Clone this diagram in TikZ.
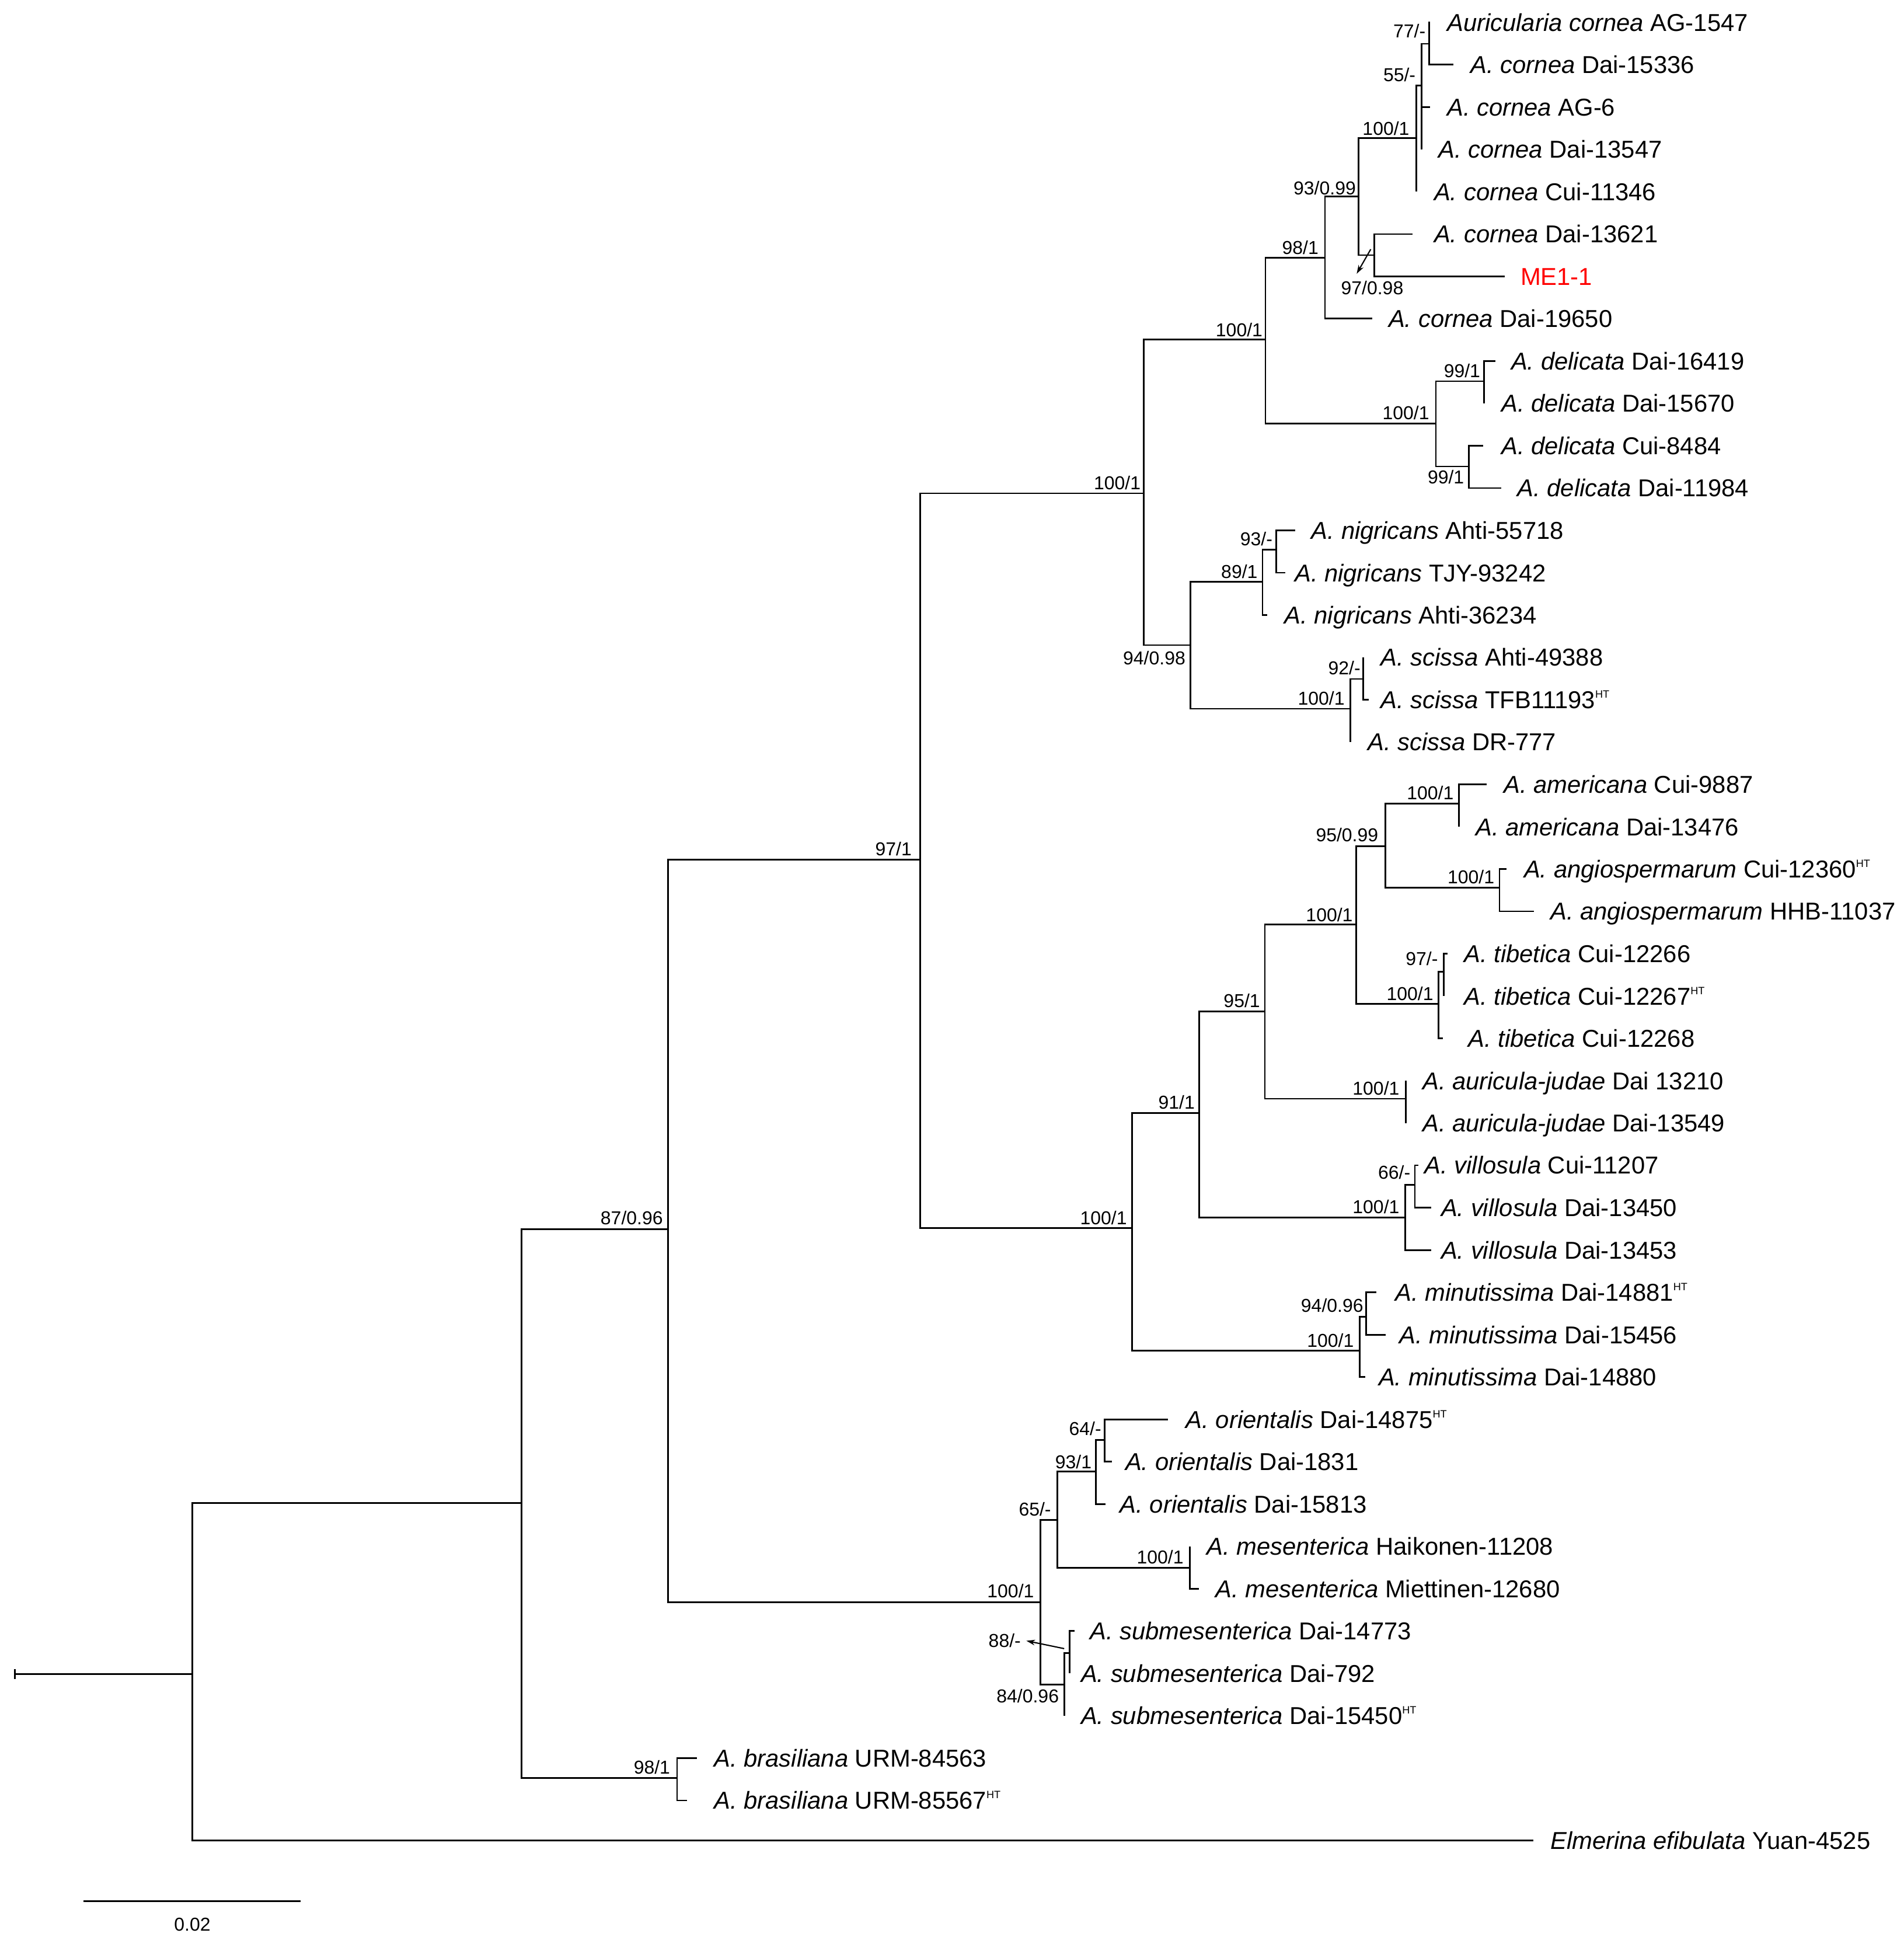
\documentclass[tikz,border=0pt]{standalone}
\usepackage{fontspec}
\setmainfont{Liberation Sans}
\usetikzlibrary{arrows.meta}
\newcommand\HTsup{\raisebox{8.5pt}{\fontsize{8.5}{8.5}\selectfont HT}}
\begin{document}
\begin{tikzpicture}[x=1pt,y=-1pt,
  br/.style={line width=1.3pt},
  tip/.style={anchor=base west, inner sep=0pt, font=\fontsize{19.6}{22}\selectfont},
  bs/.style={anchor=base east, inner sep=0pt, font=\fontsize{15}{17}\selectfont},
  bsc/.style={anchor=base, inner sep=0pt, font=\fontsize{15}{17}\selectfont},
  ptr/.style={line width=1pt, -{Stealth[length=7pt,width=4.5pt]}}]
\useasboundingbox (0,0) rectangle (1530,1564.7);

% ---------- tips (branch ends) ----------
\coordinate (t1) at (1149.5,18.0);
\coordinate (t2) at (1168,52.0);
\coordinate (t3) at (1149.5,86.0);
\coordinate (t4) at (1142.6,120.1);
\coordinate (t5) at (1138.4,154.1);
\coordinate (t6) at (1135.6,188.1);
\coordinate (t7) at (1209.7,222.1);
\coordinate (t8) at (1103,256.1);
\coordinate (t9) at (1202,290.2);
\coordinate (t10) at (1193,324.2);
\coordinate (t11) at (1192.3,358.2);
\coordinate (t12) at (1206.7,392.2);
\coordinate (t13) at (1041,426.2);
\coordinate (t14) at (1033.2,460.3);
\coordinate (t15) at (1018.7,494.3);
\coordinate (t16) at (1095.8,528.3);
\coordinate (t17) at (1100.4,562.3);
\coordinate (t18) at (1085.3,596.3);
\coordinate (t19) at (1195,630.4);
\coordinate (t20) at (1172.7,664.4);
\coordinate (t21) at (1211,698.4);
\coordinate (t22) at (1233.1,732.4);
\coordinate (t23) at (1163.4,766.4);
\coordinate (t24) at (1160.5,800.5);
\coordinate (t25) at (1159.7,834.5);
\coordinate (t26) at (1130,868.5);
\coordinate (t27) at (1130,902.5);
\coordinate (t28) at (1140,936.5);
\coordinate (t29) at (1150.6,970.6);
\coordinate (t30) at (1150.6,1004.6);
\coordinate (t31) at (1106.2,1038.6);
\coordinate (t32) at (1113.8,1072.6);
\coordinate (t33) at (1097.5,1106.6);
\coordinate (t34) at (939,1140.7);
\coordinate (t35) at (893.6,1174.7);
\coordinate (t36) at (888.5,1208.7);
\coordinate (t37) at (956.4,1242.7);
\coordinate (t38) at (963.7,1276.7);
\coordinate (t39) at (863.6,1310.8);
\coordinate (t40) at (859.7,1344.8);
\coordinate (t41) at (855.4,1378.8);
\coordinate (t42) at (560.3,1412.8);
\coordinate (t43) at (552.3,1446.9);
\coordinate (t44) at (1232.6,1479.0);

% ---------- internal nodes ----------
\coordinate (tick) at (12,1345.4);
\coordinate (nroot) at (154.6,1345.4);
\coordinate (n1) at (419.2,1208);
\coordinate (n2) at (537,988);
\coordinate (n3) at (739.5,691);
\coordinate (n4) at (919.2,396.5);
\coordinate (n6) at (1017.2,273);
\coordinate (n8) at (1065,207);
\coordinate (n9) at (1092,158);
\coordinate (n10) at (1138.4,111);
\coordinate (n12) at (1142.6,68.7);
\coordinate (n13) at (1148.8,35.2);
\coordinate (n11) at (1104.6,205);
\coordinate (ndel) at (1154.2,340.5);
\coordinate (nd1) at (1193,306.4);
\coordinate (nd2) at (1180.6,374.9);
\coordinate (n7) at (956.8,518.4);
\coordinate (nnig) at (1014.8,467.7);
\coordinate (nnig2) at (1025.7,441.7);
\coordinate (nsci) at (1085.3,569.6);
\coordinate (nsci2) at (1095.8,545.6);
\coordinate (n5) at (909.8,987);
\coordinate (n14) at (964,894.6);
\coordinate (n15) at (1016.7,812.8);
\coordinate (n16) at (1090,743);
\coordinate (n17) at (1113.6,680.2);
\coordinate (name) at (1172.7,645.7);
\coordinate (nang) at (1205.3,713.3);
\coordinate (ntib) at (1156.4,806.9);
\coordinate (ntib2) at (1160.5,781);
\coordinate (naur) at (1130,883);
\coordinate (nvil) at (1129.4,978.4);
\coordinate (nvil2) at (1137.3,952.2);
\coordinate (nmin) at (1092.9,1085.4);
\coordinate (nmin2) at (1098.2,1058.3);
\coordinate (nmes) at (836.2,1287.5);
\coordinate (nori0) at (849.8,1221.6);
\coordinate (nori) at (880.9,1182.5);
\coordinate (nori2) at (887.8,1157.3);
\coordinate (nmes2) at (956.4,1260);
\coordinate (nsub) at (855.4,1353.7);
\coordinate (nsub2) at (859.7,1328.5);
\coordinate (nbras) at (544.2,1429);

% ---------- branches ----------
\draw[br] (12,1341.5) -- (12,1349.3);
\draw[br] (tick) -- (nroot);
\draw[br] (nroot) |- (n1);  \draw[br] (nroot) |- (t44);
\draw[br] (n1) |- (n2);     \draw[br] (n1) |- (nbras);
\draw[br] (n2) |- (n3);     \draw[br] (n2) |- (nmes);
\draw[br] (n3) |- (n4);     \draw[br] (n3) |- (n5);
\draw[br] (n4) |- (n6);     \draw[br] (n4) |- (n7);
\draw[br] (n6) |- (n8);     \draw[br] (n6) |- (ndel);
\draw[br] (n8) |- (n9);     \draw[br] (n8) |- (t8);
\draw[br] (n9) |- (n10);    \draw[br] (n9) |- (n11);
\draw[br] (n10) |- (n12);   \draw[br] (n10) |- (t5);
\draw[br] (n12) |- (n13);   \draw[br] (n12) |- (t3);   \draw[br] (n12) |- (t4);
\draw[br] (n13) |- (t1);    \draw[br] (n13) |- (t2);
\draw[br] (n11) |- (t6);    \draw[br] (n11) |- (t7);
\draw[br] (ndel) |- (nd1);  \draw[br] (ndel) |- (nd2);
\draw[br] (nd1) |- (t9);    \draw[br] (nd1) |- (t10);
\draw[br] (nd2) |- (t11);   \draw[br] (nd2) |- (t12);
\draw[br] (n7) |- (nnig);   \draw[br] (n7) |- (nsci);
\draw[br] (nnig) |- (nnig2);\draw[br] (nnig) |- (t15);
\draw[br] (nnig2) |- (t13); \draw[br] (nnig2) |- (t14);
\draw[br] (nsci) |- (nsci2);\draw[br] (nsci) |- (t18);
\draw[br] (nsci2) |- (t16); \draw[br] (nsci2) |- (t17);
\draw[br] (n5) |- (n14);    \draw[br] (n5) |- (nmin);
\draw[br] (n14) |- (n15);   \draw[br] (n14) |- (nvil);
\draw[br] (n15) |- (n16);   \draw[br] (n15) |- (naur);
\draw[br] (n16) |- (n17);   \draw[br] (n16) |- (ntib);
\draw[br] (n17) |- (name);  \draw[br] (n17) |- (nang);
\draw[br] (name) |- (t19);  \draw[br] (name) |- (t20);
\draw[br] (nang) |- (t21);  \draw[br] (nang) |- (t22);
\draw[br] (ntib) |- (ntib2);\draw[br] (ntib) |- (t25);
\draw[br] (ntib2) |- (t23); \draw[br] (ntib2) |- (t24);
\draw[br] (naur) |- (t26);  \draw[br] (naur) |- (t27);
\draw[br] (nvil) |- (nvil2);\draw[br] (nvil) |- (t30);
\draw[br] (nvil2) |- (t28); \draw[br] (nvil2) |- (t29);
\draw[br] (nmin) |- (nmin2);\draw[br] (nmin) |- (t33);
\draw[br] (nmin2) |- (t31); \draw[br] (nmin2) |- (t32);
\draw[br] (nmes) |- (nori0);\draw[br] (nmes) |- (nsub);
\draw[br] (nori0) |- (nori);\draw[br] (nori0) |- (nmes2);
\draw[br] (nori) |- (nori2);\draw[br] (nori) |- (t36);
\draw[br] (nori2) |- (t34); \draw[br] (nori2) |- (t35);
\draw[br] (nmes2) |- (t37); \draw[br] (nmes2) |- (t38);
\draw[br] (nsub) |- (nsub2);\draw[br] (nsub) |- (t41);
\draw[br] (nsub2) |- (t39); \draw[br] (nsub2) |- (t40);
\draw[br] (nbras) |- (t42); \draw[br] (nbras) |- (t43);

% ---------- tip labels ----------
\node[tip] (l1) at (1163,25.0) {\textit{Auricularia cornea} AG-1547};
\node[tip] (l2) at (1182,59.0) {\textit{A. cornea} Dai-15336};
\node[tip] (l3) at (1163,93.0) {\textit{A. cornea} AG-6};
\node[tip] (l4) at (1156,127.1) {\textit{A. cornea} Dai-13547};
\node[tip] (l5) at (1152.6,161.1) {\textit{A. cornea} Cui-11346};
\node[tip] (l6) at (1152.6,195.1) {\textit{A. cornea} Dai-13621};
\node[tip,text=red] (l7) at (1222,229.1) {ME1-1};
\node[tip] (l8) at (1116,263.1) {\textit{A. cornea} Dai-19650};
\node[tip] (l9) at (1214.5,297.2) {\textit{A. delicata} Dai-16419};
\node[tip] (l10) at (1206.7,331.2) {\textit{A. delicata} Dai-15670};
\node[tip] (l11) at (1206.7,365.2) {\textit{A. delicata} Cui-8484};
\node[tip] (l12) at (1219.5,399.2) {\textit{A. delicata} Dai-11984};
\node[tip] (l13) at (1054,433.2) {\textit{A. nigricans} Ahti-55718};
\node[tip] (l14) at (1040.5,467.3) {\textit{A. nigricans} TJY-93242};
\node[tip] (l15) at (1032.3,501.3) {\textit{A. nigricans} Ahti-36234};
\node[tip] (l16) at (1109.6,535.3) {\textit{A. scissa} Ahti-49388};
\node[tip] (l17) at (1109.6,569.3) {\textit{A. scissa} TFB11193\HTsup};
\node[tip] (l18) at (1099.2,603.3) {\textit{A. scissa} DR-777};
\node[tip] (l19) at (1208.5,637.4) {\textit{A. americana} Cui-9887};
\node[tip] (l20) at (1186,671.4) {\textit{A. americana} Dai-13476};
\node[tip] (l21) at (1224.8,705.4) {\textit{A. angiospermarum} Cui-12360\HTsup};
\node[tip] (l22) at (1246,739.4) {\textit{A. angiospermarum} HHB-11037};
\node[tip] (l23) at (1176.7,773.4) {\textit{A. tibetica} Cui-12266};
\node[tip] (l24) at (1176.7,807.5) {\textit{A. tibetica} Cui-12267\HTsup};
\node[tip] (l25) at (1180,841.5) {\textit{A. tibetica} Cui-12268};
\node[tip] (l26) at (1143.3,875.5) {\textit{A. auricula-judae} Dai 13210};
\node[tip] (l27) at (1143.3,909.5) {\textit{A. auricula-judae} Dai-13549};
\node[tip] (l28) at (1144.9,943.5) {\textit{A. villosula} Cui-11207};
\node[tip] (l29) at (1158.2,977.6) {\textit{A. villosula} Dai-13450};
\node[tip] (l30) at (1158.2,1011.6) {\textit{A. villosula} Dai-13453};
\node[tip] (l31) at (1121.5,1045.6) {\textit{A. minutissima} Dai-14881\HTsup};
\node[tip] (l32) at (1124.5,1079.6) {\textit{A. minutissima} Dai-15456};
\node[tip] (l33) at (1108,1113.6) {\textit{A. minutissima} Dai-14880};
\node[tip] (l34) at (953.1,1147.7) {\textit{A. orientalis} Dai-14875\HTsup};
\node[tip] (l35) at (904.4,1181.7) {\textit{A. orientalis} Dai-1831};
\node[tip] (l36) at (900.1,1215.7) {\textit{A. orientalis} Dai-15813};
\node[tip] (l37) at (969.7,1249.7) {\textit{A. mesenterica} Haikonen-11208};
\node[tip] (l38) at (977,1283.7) {\textit{A. mesenterica} Miettinen-12680};
\node[tip] (l39) at (876,1317.8) {\textit{A. submesenterica} Dai-14773};
\node[tip] (l40) at (868.7,1351.8) {\textit{A. submesenterica} Dai-792};
\node[tip] (l41) at (868.7,1385.8) {\textit{A. submesenterica} Dai-15450\HTsup};
\node[tip] (l42) at (573.8,1419.8) {\textit{A. brasiliana} URM-84563};
\node[tip] (l43) at (573.8,1453.9) {\textit{A. brasiliana} URM-85567\HTsup};
\node[tip] (l44) at (1246,1486.0) {\textit{Elmerina efibulata} Yuan-4525};

% ---------- support values ----------
\node[bs] (b1) at (1146,30.5) {77/-};
\node[bs] (b2) at (1138,65.5) {55/-};
\node[bs] (b3) at (1133,108.5) {100/1};
\node[bs] (b4) at (1090,156.5) {93/0.99};
\node[bs] (b5) at (1060,204.5) {98/1};
\node[bsc] (b6) at (1103,236.5) {97/0.98};
\node[bs] (b7) at (1015,270.5) {100/1};
\node[bs] (b8) at (1190,303.5) {99/1};
\node[bs] (b9) at (1149,337) {100/1};
\node[bs] (b10) at (1177,388.5) {99/1};
\node[bs] (b11) at (917,393.5) {100/1};
\node[bs] (b12) at (1023,438.5) {93/-};
\node[bs] (b13) at (1011,464.5) {89/1};
\node[bs] (b14) at (953,534) {94/0.98};
\node[bs] (b15) at (1093.7,542) {92/-};
\node[bs] (b16) at (1081,566.5) {100/1};
\node[bs] (b17) at (1168.6,642.4) {100/1};
\node[bs] (b18) at (1108,676.3) {95/0.99};
\node[bs] (b19) at (733,687.5) {97/1};
\node[bs] (b20) at (1201.3,710.2) {100/1};
\node[bs] (b21) at (1087.5,740.5) {100/1};
\node[bs] (b22) at (1156,776) {97/-};
\node[bs] (b23) at (1152.3,803.7) {100/1};
\node[bs] (b24) at (1013,809.5) {95/1};
\node[bs] (b25) at (1125,880) {100/1};
\node[bs] (b26) at (960.5,891) {91/1};
\node[bs] (b27) at (1133.8,947.5) {66/-};
\node[bs] (b28) at (1125,975.3) {100/1};
\node[bs] (b29) at (533,984) {87/0.96};
\node[bs] (b30) at (906,984) {100/1};
\node[bs] (b31) at (1096,1054.5) {94/0.96};
\node[bs] (b32) at (1088.4,1082.7) {100/1};
\node[bs] (b33) at (885.4,1153.4) {64/-};
\node[bs] (b34) at (877.6,1180) {93/1};
\node[bs] (b35) at (845,1218) {65/-};
\node[bs] (b36) at (951.5,1256.5) {100/1};
\node[bs] (b37) at (831.3,1284) {100/1};
\node[bs] (b38) at (820.7,1323.9) {88/-};
\node[bs] (b39) at (851.3,1368.5) {84/0.96};
\node[bs] (b40) at (538.8,1425.5) {98/1};

% ---------- pointers ----------
\coordinate (p1s) at (1101.8,200.3);
\coordinate (p1e) at (1090.5,220);
\draw[ptr] (p1s) -- (p1e);
\coordinate (p2s) at (855.4,1324.9);
\coordinate (p2e) at (825,1318.6);
\draw[ptr] (p2s) -- (p2e);

% ---------- scale bar ----------
\coordinate (sb1) at (67.3,1528);
\coordinate (sb2) at (241.4,1528);
\draw[br] (sb1) -- (sb2);
\node[bsc] (sbl) at (154.6,1552) {0.02};
\end{tikzpicture}
\end{document}
